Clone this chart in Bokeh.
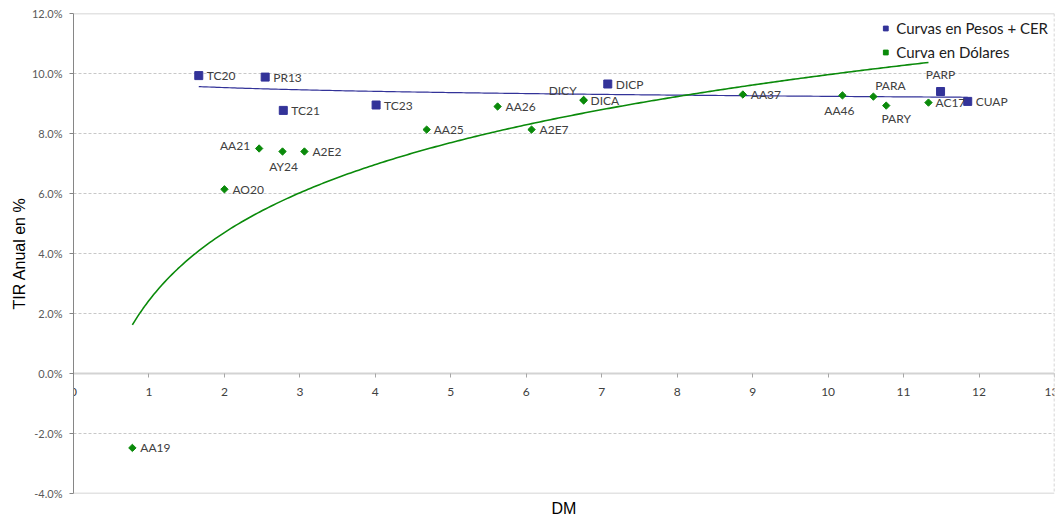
import numpy as np
from bokeh.plotting import figure
from bokeh.models import (Range1d, SingleIntervalTicker, PrintfTickFormatter, Span,
                          Title, Legend, LegendItem, ColumnDataSource)
from bokeh.core.properties import value
from bokeh.embed import file_html
from bokeh.resources import INLINE

# ---------------- data ----------------
pesos_names = ["TC20", "PR13", "TC21", "TC23", "DICP", "PARP", "CUAP"]
pesos_dm = [1.66, 2.54, 2.78, 4.01, 7.08, 11.49, 11.85]
pesos_tir = [9.93, 9.88, 8.77, 8.95, 9.65, 9.40, 9.07]

dol_names = ["AA19", "AO20", "AA21", "AY24", "A2E2", "AA25", "AA26", "A2E7",
             "DICY", "DICA", "AA37", "AA46", "PARA", "PARY", "AC17"]
dol_dm = [0.78, 2.00, 2.46, 2.77, 3.06, 4.68, 5.62, 6.07,
          6.76, 6.76, 8.87, 10.19, 10.60, 10.77, 11.33]
dol_tir = [-2.48, 6.14, 7.50, 7.40, 7.40, 8.13, 8.90, 8.13,
           9.12, 9.10, 9.30, 9.27, 9.23, 8.93, 9.03]

x_ticks_interval = 1
y_ticks_interval = 2

# label placement (screen px offsets, style only)
pesos_dx = [8, 8, 8, 8, 8, 0, 8]
pesos_dy = [0, 0, 0, 0, 0, -17, 0]
pesos_align = ["left", "left", "left", "left", "left", "center", "left"]
dol_dx = [8, 8, -9, 1, 8, 7, 8, 8, -7, 7, 8, -3, 17, 10, 7]
dol_dy = [0, 0, -3, 15, 0, 0, 0, 0, -9, 0, 0, 15, -11, 13, 0]
dol_align = ["left", "left", "right", "center", "left", "left", "left", "left",
             "right", "left", "left", "center", "center", "center", "left"]

BLUE = "#333399"
GREEN = "#0A8A0A"


def log_trend(xs, ys):
    b, a = np.polyfit(np.log(np.array(xs)), np.array(ys), 1)
    xx = np.linspace(min(xs), max(xs), 300)
    return xx, a + b * np.log(xx)


p = figure(width=1058, height=521, output_backend="svg", toolbar_location=None,
           x_range=Range1d(0, 13), y_range=Range1d(-4, 12),
           min_border_left=73, min_border_right=4, min_border_top=13,
           min_border_bottom=28)
p.outline_line_color = None
p.background_fill_color = "white"

# axes
p.xaxis.fixed_location = 0
p.xaxis.ticker = SingleIntervalTicker(interval=x_ticks_interval)
p.xaxis.axis_line_color = "#D3D3D3"
p.xaxis.axis_line_width = 2
p.xaxis.major_tick_line_color = "#A6A6A6"
p.xaxis.major_tick_in = 0
p.xaxis.major_tick_out = 4
p.xaxis.minor_tick_line_color = None
p.xaxis.major_label_standoff = 10
p.xaxis.major_label_text_font = "Lato"
p.xaxis.major_label_text_font_size = "12px"
p.xaxis.major_label_text_color = "#404040"

p.yaxis.ticker = SingleIntervalTicker(interval=y_ticks_interval)
p.yaxis.formatter = PrintfTickFormatter(format="%.1f%%")
p.yaxis.axis_line_color = "#868686"
p.yaxis.major_tick_line_color = "#868686"
p.yaxis.major_tick_in = 0
p.yaxis.major_tick_out = 4
p.yaxis.minor_tick_line_color = None
p.yaxis.major_label_standoff = 7
p.yaxis.major_label_text_font = "Lato"
p.yaxis.major_label_text_font_size = "11px"
p.yaxis.major_label_text_color = "#595959"
p.yaxis.axis_label = "TIR Anual en %"
p.yaxis.axis_label_text_font = "Liberation Sans"
p.yaxis.axis_label_text_font_size = "16px"
p.yaxis.axis_label_text_font_style = "normal"
p.yaxis.axis_label_text_color = "#000000"
p.yaxis.axis_label_standoff = 1

p.add_layout(Title(text="DM", align="center", text_font="Liberation Sans",
                   text_font_size="16px", text_font_style="normal",
                   text_color="#000000", standoff=8), "below")

# grid
p.xgrid.visible = False
p.ygrid.grid_line_color = "#C8C8C8"
p.ygrid.grid_line_dash = "3 2"

# plot area border pieces
p.add_layout(Span(location=12, dimension="width", line_color="#C8C8C8", line_width=1.5))
p.add_layout(Span(location=-4, dimension="width", line_color="#C8C8C8", line_width=1.5))
p.add_layout(Span(location=13, dimension="height", line_color="#C8C8C8",
                  line_width=1.5, line_dash="3 2"))

# trend lines
tx, ty = log_trend(pesos_dm, pesos_tir)
p.line(tx, ty, line_color=BLUE, line_width=1.2)
gx, gy = log_trend(dol_dm, dol_tir)
p.line(gx, gy, line_color=GREEN, line_width=1.6)

# markers
src_p = ColumnDataSource(dict(x=pesos_dm, y=pesos_tir, name=pesos_names,
                              dx=pesos_dx, dy=pesos_dy, al=pesos_align))
src_d = ColumnDataSource(dict(x=dol_dm, y=dol_tir, name=dol_names,
                              dx=dol_dx, dy=dol_dy, al=dol_align))
r_p = p.scatter("x", "y", source=src_p, marker="square", size=8,
                fill_color=BLUE, line_color=BLUE)
r_d = p.scatter("x", "y", source=src_d, marker="square", size=5.2, angle=np.pi / 4,
                fill_color=GREEN, line_color=GREEN)

for s in (src_p, src_d):
    p.text("x", "y", text="name", source=s, x_offset="dx", y_offset="dy",
           text_align="al", text_baseline="middle", text_font=value("Lato"),
           text_font_size="12px", text_color="#404040")

legend = Legend(items=[LegendItem(label="Curvas en Pesos + CER", renderers=[r_p]),
                       LegendItem(label="Curva en Dólares", renderers=[r_d])],
                location="top_right", orientation="vertical",
                border_line_color=None, background_fill_alpha=0,
                label_text_font="Lato", label_text_font_size="15px",
                label_text_color="#202020", glyph_width=12, glyph_height=18,
                label_height=18, spacing=6, padding=8, margin=6, label_standoff=5)
p.add_layout(legend)

open("out.html", "w").write(file_html(p, INLINE))
